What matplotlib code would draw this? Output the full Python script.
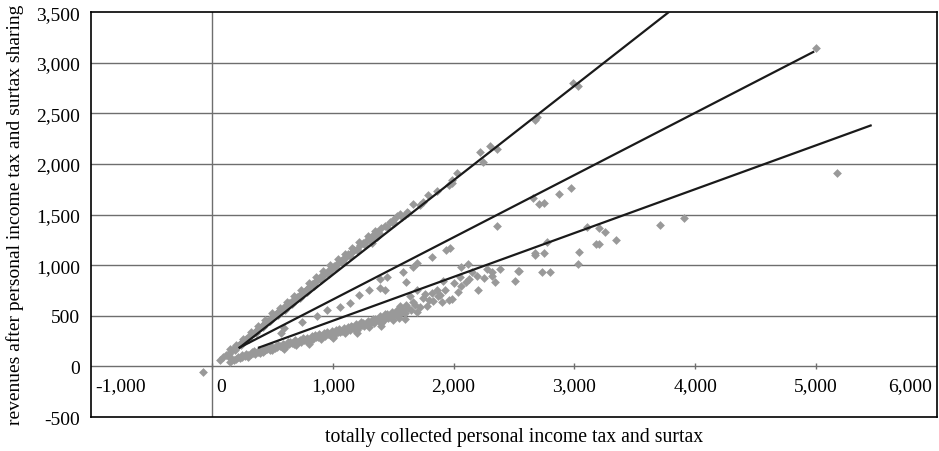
import matplotlib
matplotlib.use("Agg")
import matplotlib.pyplot as plt

plt.rcParams["font.family"] = ["Liberation Serif", "DejaVu Serif"]

# upper group (sharing ratio near 0.93)
upper_x = [70, 95, 120, 140, 160, 175, 195, 215, 230, 250, 265, 280, 300, 315, 330, 345, 360, 375,
           390, 410, 425, 440, 455, 470, 490, 505, 520, 540, 555, 570, 590, 605, 620, 640, 655, 670,
           690, 705, 720, 740, 760, 775, 790, 810, 830, 845, 860, 880, 900, 915, 935, 950, 970, 990,
           1010, 1030, 1050, 1070, 1090, 1110, 1130, 1150, 1175, 1200, 1225, 1250, 1280, 1310, 1340,
           1370, 1400, 1430, 1470, 1500, 1530, 1560, 1595, 1620, 1660, 1720, 1745, 1785, 1860, 1960,
           1990, 1985, 2025, 2215, 2240, 2305, 2355, 2670, 2690, 2990, 3030,
           150, 200, 260, 320, 380, 440, 500, 560, 620, 680, 740, 800, 860, 920, 980, 1040, 1100,
           1160, 1220, 1290, 1350, 1322, 1364, 1496, 1612,
           130, 190, 245, 305, 365, 425, 485, 545, 605, 665, 725, 785, 845, 905, 965, 1025, 1085,
           1145, 1205, 1265, 1325, 1385, 1445, 1510, 1570]
upper_y = [65, 90, 115, 125, 150, 170, 185, 200, 225, 240, 250, 270, 290, 300, 320, 335, 345, 365,
           380, 390, 410, 430, 445, 450, 475, 500, 505, 525, 545, 560, 570, 595, 600, 625, 640, 650,
           670, 690, 700, 715, 740, 760, 770, 790, 810, 820, 845, 860, 870, 900, 915, 920, 950, 965,
           990, 1000, 1030, 1040, 1070, 1080, 1110, 1120, 1150, 1165, 1200, 1215, 1250, 1270, 1310,
           1330, 1370, 1390, 1430, 1450, 1490, 1510, 1500, 1520, 1600, 1590, 1620, 1690, 1730, 1795,
           1845, 1815, 1915, 2120, 2020, 2180, 2150, 2435, 2465, 2800, 2770,
           175, 215, 275, 340, 395, 460, 530, 580, 640, 700, 760, 820, 880, 940, 1000, 1060, 1110,
           1170, 1230, 1290, 1340, 1223, 1282, 1420, 1529,
           100, 160, 215, 275, 330, 390, 445, 505, 560, 620, 680, 735, 795, 855, 915, 970, 1030,
           1090, 1140, 1200, 1260, 1320, 1380, 1420, 1480]

# middle group (ratio near 0.6)
middle_x = [-70, 570, 600, 745, 870, 950, 1060, 1140, 1220, 1300, 1390, 1430, 1390, 1450, 1580,
            1610, 1660, 1695, 1825, 1940, 1970, 2355, 2655, 2710, 2750, 2875, 2975, 5000]
middle_y = [-50, 335, 380, 435, 495, 560, 590, 630, 710, 760, 780, 760, 860, 880, 935,
            830, 985, 1025, 1085, 1155, 1175, 1385, 1665, 1600, 1615, 1705, 1765, 3145]

# lower group (ratio near 0.3 - 0.45)
lower_x = [150, 180, 200, 230, 250, 270, 300, 320, 340, 360, 380, 400, 420, 440, 460, 480, 500, 520,
           540, 560, 580, 600, 620, 640, 660, 680, 700, 720, 740, 760, 780, 800, 820, 840, 860, 880,
           900, 920, 940, 960, 980, 1000, 1020, 1040, 1060, 1080, 1100, 1120, 1140, 1160, 1180, 1200,
           1220, 1240, 1260, 1280, 1300, 1320, 1340, 1360, 1380, 1400, 1420, 1440, 1460, 1480, 1500,
           1520, 1540, 1570, 1580, 1610, 1660, 1720, 1745, 1800, 1825, 1860, 1885, 1910, 1965, 1990,
           2035, 2065, 2065, 2105, 2115, 2130, 2195, 2200, 2280, 2315, 2320, 2505, 2530, 2545, 2670,
           2670, 2730, 2750, 2770, 2795, 3025, 3040, 3105, 3180, 3200, 3205, 3250, 3345, 3710, 3910,
           5170,
           300, 400, 500, 600, 700, 800, 900, 1000, 1100, 1200, 1300, 1400, 1500, 1550, 1600, 1650,
           1700, 1450, 1350, 1250, 1150, 1050, 950, 850, 750, 650, 550, 450, 350, 250,
           1640, 1700, 1760, 1830, 1870, 1930, 2000, 2050, 2150, 2250, 2340, 2380, 1780, 1900,
           170, 220, 280, 330, 390, 430, 490, 530, 590, 630, 690, 730, 790, 830, 890, 930, 990,
           1030, 1090, 1130, 1190, 1230, 1290, 1330, 1390, 1430, 1490, 1530, 1560, 1620, 1680,
           600, 800, 1000, 1200, 1400, 1600]
lower_y = [40, 60, 75, 80, 95, 100, 110, 120, 130, 125, 140, 150, 145, 160, 170, 165, 185, 180,
           195, 200, 195, 215, 210, 225, 230, 225, 240, 250, 245, 260, 265, 260, 280, 275, 290, 295,
           290, 305, 300, 320, 315, 330, 320, 345, 340, 355, 350, 370, 360, 385, 375, 395,
           390, 410, 400, 425, 415, 440, 430, 455, 445, 470, 460, 490, 480, 505, 495,
           520, 510, 535, 560, 610, 640, 590, 680, 660, 730, 760, 710, 840, 660, 670,
           740, 790, 985, 830, 1015, 860, 890, 760, 965, 935, 890, 840, 945, 945, 1105,
           1125, 935, 1125, 1225, 935, 1015, 1135, 1380, 1205, 1210, 1370, 1330, 1250, 1400, 1470,
           1915,
           90, 130, 160, 190, 215, 240, 270, 295, 330, 360, 390, 430, 460, 480, 530, 560,
           540, 520, 470, 430, 400, 370, 340, 310, 280, 245, 215, 180, 150, 110,
           700, 760, 720, 650, 700, 760, 820, 880, 930, 870, 830, 960, 600, 640,
           70, 95, 120, 140, 160, 175, 200, 205, 225, 240, 260, 265, 285, 300, 320, 330, 350,
           360, 380, 390, 420, 440, 450, 470, 500, 520, 540, 560, 600, 580, 610,
           170, 220, 280, 330, 400, 470]

# trend lines (start and end of each)
trend_x = [[230, 3780], [230, 4975], [390, 5450]]
trend_y = [[187, 3500], [187, 3106], [187, 2380]]

x_ticks = [-1000, 0, 1000, 2000, 3000, 4000, 5000, 6000]
y_ticks = [-500, 0, 500, 1000, 1500, 2000, 2500, 3000, 3500]

fig = plt.figure(figsize=(9.39, 4.52), dpi=100)
ax = fig.add_axes([0.0969, 0.075, 0.9011, 0.896])

gray = "#999999"
for xs, ys in [(upper_x, upper_y), (middle_x, middle_y), (lower_x, lower_y)]:
    ax.scatter(xs, ys, marker="D", s=20, color=gray, linewidths=0, zorder=3)

for tx, ty in zip(trend_x, trend_y):
    ax.plot(tx, ty, color="#1a1a1a", lw=1.6, zorder=4)

ax.set_xlim(-1000, 6000)
ax.set_ylim(-500, 3500)

# grid and axes lines
for yv in y_ticks[1:-1]:
    ax.axhline(yv, color="#6e6e6e", lw=1.0, zorder=1)
ax.axvline(0, color="#6e6e6e", lw=1.0, zorder=1)
ax.plot(x_ticks[1:-1], [0] * len(x_ticks[1:-1]), ls="none", marker="|",
        markersize=5, color="#6e6e6e", zorder=1)

ax.set_xticks([])
ax.set_yticks(y_ticks)
ax.set_yticklabels([f"{v:,}" for v in y_ticks], fontsize=14)
ax.tick_params(axis="y", length=0, pad=8)

# x tick labels sit under the zero line, inside the frame
for xv in x_ticks:
    if xv == x_ticks[0]:
        ax.annotate(f"{xv:,}", (xv, 0), xytext=(3, -8), textcoords="offset points",
                    ha="left", va="top", fontsize=14)
    elif xv == x_ticks[-1]:
        ax.annotate(f"{xv:,}", (xv, 0), xytext=(-4, -8), textcoords="offset points",
                    ha="right", va="top", fontsize=14)
    elif xv == 0:
        ax.annotate(f"{xv:,}", (xv, 0), xytext=(3, -8), textcoords="offset points",
                    ha="left", va="top", fontsize=14)
    else:
        ax.annotate(f"{xv:,}", (xv, 0), xytext=(0, -8), textcoords="offset points",
                    ha="center", va="top", fontsize=14)

for sp in ax.spines.values():
    sp.set_color("black")
    sp.set_linewidth(1.2)

fig.text(0.547, 0.033, "totally collected personal income tax and surtax",
         ha="center", va="center", fontsize=14.2)
fig.text(0.016, 0.524, "revenues after personal income tax and surtax sharing",
         ha="center", va="center", rotation=90, fontsize=14)

fig.savefig("out.png", dpi=100)
